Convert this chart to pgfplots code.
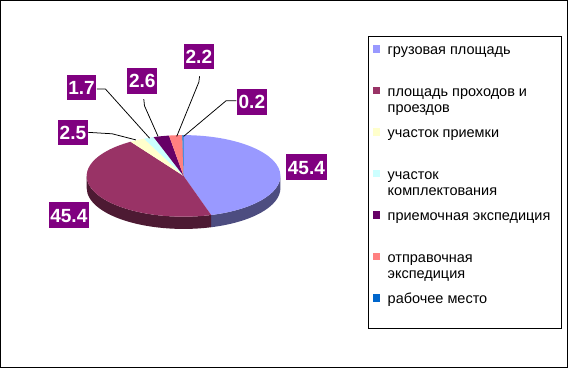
\documentclass[border=0pt]{standalone}
\usepackage{pgfplots}
\pgfplotsset{compat=1.18}
\usepackage{fontspec}
\setmainfont{Liberation Sans}
\definecolor{cA}{HTML}{9999FF}
\definecolor{cB}{HTML}{993366}
\definecolor{cC}{HTML}{FFFFCC}
\definecolor{cD}{HTML}{CCFFFF}
\definecolor{cE}{HTML}{660066}
\definecolor{cF}{HTML}{FF8080}
\definecolor{cG}{HTML}{0066CC}
\definecolor{sA}{HTML}{4D4D80}
\definecolor{sB}{HTML}{4D1A33}
\definecolor{labbg}{HTML}{800080}
% data (percent)
\def\vA{45.4}\def\vB{45.4}\def\vC{2.5}\def\vD{1.7}\def\vE{2.6}\def\vF{2.2}\def\vG{0.2}
\pgfmathsetmacro\aO{90}
\pgfmathsetmacro\aA{\aO-3.6*\vA}
\pgfmathsetmacro\aB{\aA-3.6*\vB}
\pgfmathsetmacro\aC{\aB-3.6*\vC}
\pgfmathsetmacro\aD{\aC-3.6*\vD}
\pgfmathsetmacro\aE{\aD-3.6*\vE}
\pgfmathsetmacro\aF{\aE-3.6*\vF}
\pgfmathsetmacro\aG{\aF-3.6*\vG}
\newcommand\legfont{\fontsize{14.2bp}{16bp}\selectfont}
\tikzset{lab/.style={fill=labbg, text=white, font=\fontsize{18.7bp}{22bp}\selectfont\bfseries,
  inner xsep=1.5bp, inner ysep=5.8bp, text height=13.4bp, text depth=0pt},
  leg/.style={anchor=base west, inner sep=0pt, font=\legfont}}
\newcommand\pieslice[3]{\fill[#1] (axis cs:185,177) -- ++(#2:95bp and 40bp) arc[start angle=#2, end angle=#3, x radius=95bp, y radius=40bp] -- cycle;}
% legend entry: color, row index, first line, second line
\newcommand\legent[4]{%
  \pgfmathsetmacro\ly{54+40.7*#2}%
  \edef\doit{\noexpand\fill[#1] (axis cs:371,\ly-5) rectangle (axis cs:378,\ly+2);
    \noexpand\node[leg] at (axis cs:385,\ly+4) {\unexpanded{#3}};
    \noexpand\node[leg] at (axis cs:385,\ly+20) {\unexpanded{#4}};}%
  \doit}
\begin{document}
\begin{tikzpicture}
\begin{axis}[scale only axis, width=568bp, height=371bp,
  xmin=0, xmax=568, ymin=0, ymax=371, y dir=reverse,
  axis lines=none, clip=false]
% frame
\draw[line width=1bp] (axis cs:5.5,5) rectangle (axis cs:561.5,365);
% side walls
\fill[sA] (axis cs:185,177) ++(0:95bp and 40bp) arc[start angle=0, end angle=\aA, x radius=95bp, y radius=40bp] -- ++(0,-12bp) arc[start angle=\aA, end angle=0, x radius=95bp, y radius=40bp] -- cycle;
\fill[sB] (axis cs:185,177) ++(\aA:95bp and 40bp) arc[start angle=\aA, end angle=-180, x radius=95bp, y radius=40bp] -- ++(0,-12bp) arc[start angle=-180, end angle=\aA, x radius=95bp, y radius=40bp] -- cycle;
% top faces
\pieslice{cA}{\aO}{\aA}
\pieslice{cB}{\aA}{\aB}
\pieslice{cC}{\aB}{\aC}
\pieslice{cD}{\aC}{\aD}
\pieslice{cE}{\aD}{\aE}
\pieslice{cF}{\aE}{\aF}
\pieslice{cG}{\aF}{\aG}
% leader lines
\draw[line width=0.75bp] (axis cs:91.7,134.3) -- (axis cs:115,135.7) -- (axis cs:138.3,141.7);
\draw[line width=0.75bp] (axis cs:100,91.7) -- (axis cs:108.3,91.7) -- (axis cs:151.7,140);
\draw[line width=0.75bp] (axis cs:146,101.7) -- (axis cs:146.7,108.3) -- (axis cs:160,138.3);
\draw[line width=0.75bp] (axis cs:200.7,79.3) -- (axis cs:200,85) -- (axis cs:178.3,138.3);
\draw[line width=0.75bp] (axis cs:236.7,103.3) -- (axis cs:226.7,103.3) -- (axis cs:185,138.3);
% labels
\node[lab] at (axis cs:305.5,168.5) {45.4};
\node[lab] at (axis cs:72.5,215.5) {45.4};
\node[lab] at (axis cs:76.5,134.5) {2.5};
\node[lab] at (axis cs:85,90.5) {1.7};
\node[lab] at (axis cs:144.5,84) {2.6};
\node[lab] at (axis cs:200,60) {2.2};
\node[lab] at (axis cs:252,104.5) {0.2};
% legend
\draw[line width=1bp] (axis cs:366,40.7) rectangle (axis cs:555.7,326.7);
\legent{cA}{0}{грузовая площадь}{}
\legent{cB}{1}{площадь проходов и}{проездов}
\legent{cC}{2}{участок приемки}{}
\legent{cD}{3}{участок}{комплектования}
\legent{cE}{4}{приемочная экспедиция}{}
\legent{cF}{5}{отправочная}{экспедиция}
\legent{cG}{6}{рабочее место}{}
\end{axis}
\end{tikzpicture}
\end{document}
